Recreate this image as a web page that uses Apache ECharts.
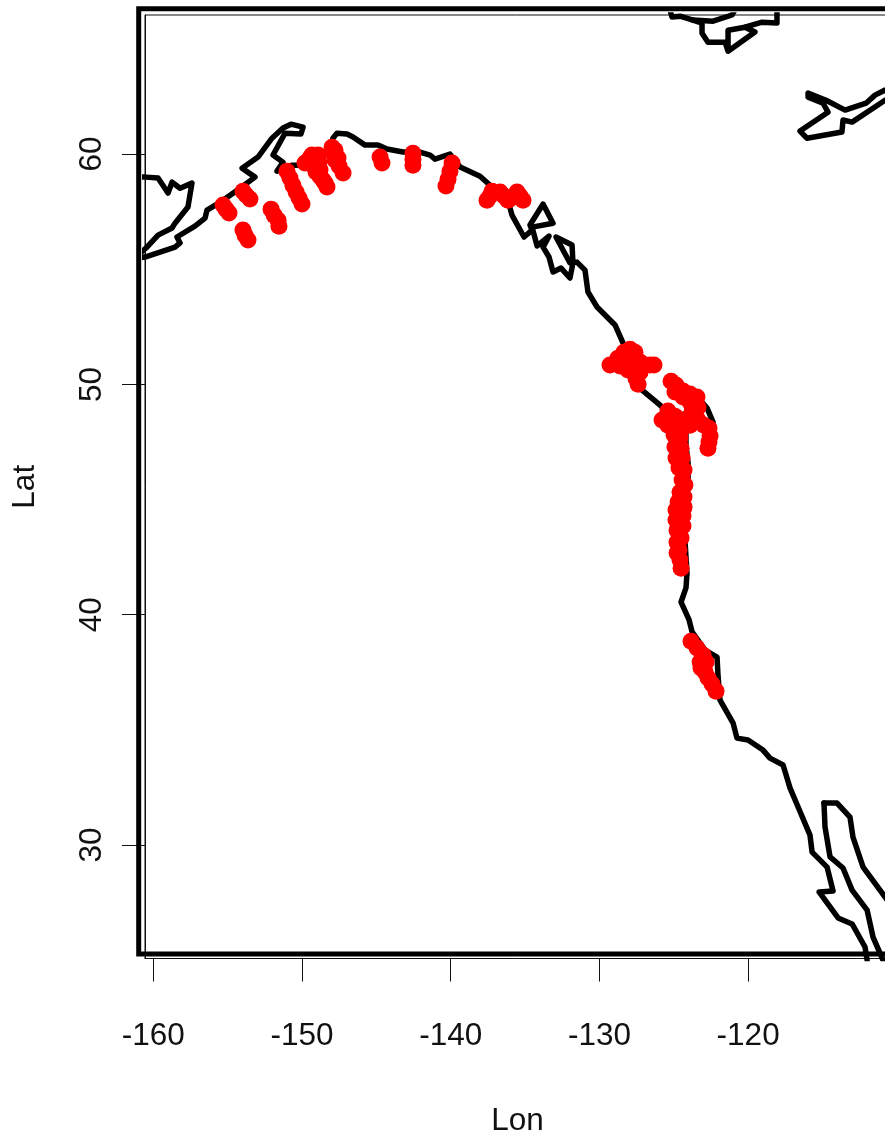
<!DOCTYPE html>
<html>
<head>
<meta charset="utf-8">
<style>html,body{margin:0;padding:0;background:#fff}#c{width:885px;height:1134px}</style>
<script src="https://cdn.jsdelivr.net/npm/echarts@6/dist/echarts.min.js"></script>
</head>
<body>
<div id="c"></div>
<script>
const lonTicks = [-160, -150, -140, -130, -120];
const latTicks = [30, 40, 50, 60];

const coastMain = [[-161.23,55.48],[-160.56,55.53],[-159.55,55.74],[-158.54,55.96],[-158.20,56.14],[-158.41,56.40],[-157.20,56.87],[-156.52,57.22],[-156.39,57.57],[-155.38,57.96],[-154.17,58.52],[-153.16,59.00],[-154.03,59.39],[-152.96,59.87],[-152.02,60.69],[-151.28,61.13],[-150.74,61.30],[-149.93,61.17],[-150.07,60.87],[-151.14,60.91],[-151.95,59.96],[-151.28,59.65],[-151.68,59.26],[-150.67,59.52],[-149.80,59.52],[-148.79,59.83],[-148.12,60.17],[-147.92,60.69],[-147.65,60.91],[-146.97,60.87],[-146.57,60.74],[-145.76,60.39],[-144.89,60.39],[-144.28,60.22],[-143.21,60.09],[-142.07,60.09],[-141.39,59.96],[-141.06,59.78],[-140.05,60.00],[-139.37,59.44],[-138.03,59.04],[-137.22,58.57],[-136.21,58.13],[-135.88,57.35],[-135.07,56.40],[-134.53,56.70],[-134.67,56.92],[-133.79,57.83],[-133.12,57.00],[-134.53,56.83],[-134.19,56.01],[-133.39,56.44],[-133.79,55.96],[-133.39,55.53],[-133.12,54.88],[-132.58,55.05],[-131.98,54.62],[-131.78,55.27],[-131.84,56.05],[-132.92,56.40],[-131.98,55.27],[-131.51,55.31],[-130.97,54.96],[-130.77,54.01],[-130.16,53.36],[-128.95,52.58],[-128.41,51.79],[-127.94,50.84],[-127.13,49.75],[-125.92,49.10],[-125.12,48.54],[-123.91,48.80],[-123.23,49.32],[-122.76,48.97],[-122.36,48.36],[-123.23,48.28],[-124.18,48.10],[-124.18,47.36],[-124.04,46.58],[-124.04,45.85],[-124.18,44.54],[-124.25,43.24],[-124.11,41.81],[-124.18,41.16],[-124.51,40.55],[-123.97,39.77],[-123.77,39.25],[-122.90,38.46],[-122.09,38.16],[-122.02,37.29],[-121.89,36.29],[-121.01,35.29],[-120.75,34.64],[-120.01,34.56],[-119.00,34.12],[-118.53,33.77],[-117.65,33.47],[-117.18,32.47],[-116.64,31.65],[-115.84,30.43],[-115.70,29.69],[-114.69,29.04],[-114.29,28.00],[-115.23,27.96],[-113.95,26.83],[-113.01,26.57],[-112.14,25.57],[-112.00,25.00]];
const coastBajaEast = [[-114.90,31.82],[-114.02,31.82],[-113.15,31.21],[-112.95,30.34],[-112.27,29.04],[-110.79,27.74],[-110.32,27.30]];
const coastBajaWest = [[-114.90,31.82],[-114.83,30.78],[-114.49,29.48],[-113.62,29.00],[-113.01,28.04],[-112.00,27.17],[-111.60,26.00],[-110.93,25.00]];
const coastBristol = [[-161.03,59.00],[-160.49,59.00],[-159.68,58.96],[-159.01,58.31],[-158.74,58.78],[-158.20,58.52],[-157.40,58.74],[-157.67,57.70],[-158.54,57.00],[-158.74,56.79],[-159.68,56.48],[-160.49,55.92],[-161.03,55.61]];
const coastTopA = [[-125.25,66.25],[-125.12,65.95],[-124.58,65.99],[-123.71,65.82],[-123.10,65.69],[-123.10,65.25],[-122.70,64.86],[-121.55,64.86],[-121.35,64.47],[-121.35,65.38],[-120.21,65.51],[-119.54,65.30],[-121.35,64.47]];
const coastTopB = [[-120.21,65.51],[-119.06,65.73],[-118.06,65.69],[-118.06,66.25]];
const coastTopC = [[-123.71,65.82],[-122.36,65.77],[-121.08,66.04],[-120.90,66.25]];
const coastIsland = [[-110.12,62.87],[-110.79,62.78],[-111.47,62.56],[-112.07,62.21],[-113.48,61.91],[-114.76,62.34],[-115.97,62.65],[-115.97,62.47],[-114.96,62.21],[-114.63,61.82],[-116.51,61.00],[-116.04,60.69],[-113.69,60.96],[-113.62,61.48],[-113.01,61.39],[-110.79,62.34],[-110.12,62.56]];

const sitesAlaska = [[-155.31,57.79],[-155.11,57.61],[-154.91,57.44],[-153.97,58.39],[-153.77,58.22],[-153.50,58.05],[-153.97,56.70],[-153.83,56.48],[-153.63,56.27],[-152.08,57.61],[-151.88,57.35],[-151.61,57.13],[-151.55,56.87],[-151.01,59.26],[-150.81,58.96],[-150.61,58.65],[-150.40,58.35],[-150.20,58.09],[-150.00,57.83],[-149.80,59.61],[-149.46,59.83],[-149.33,59.96],[-148.92,59.96],[-149.26,59.52],[-148.86,59.61],[-149.06,59.22],[-148.79,59.31],[-148.79,59.04],[-148.59,58.87],[-148.45,58.74],[-148.32,58.57],[-147.98,60.30],[-147.78,60.17],[-147.92,60.04],[-147.58,59.83],[-147.78,59.74],[-147.51,59.48],[-147.24,59.18],[-144.75,59.87],[-144.62,59.61],[-142.54,60.04],[-142.54,59.78],[-142.54,59.52],[-139.91,59.61],[-140.05,59.26],[-140.18,58.91],[-140.32,58.61],[-137.56,58.00],[-137.36,58.18],[-137.22,58.39],[-136.68,58.35],[-136.42,58.18],[-136.15,58.00],[-135.81,58.13],[-135.54,58.35],[-135.34,58.18],[-135.14,58.00]];
const sitesBC = [[-129.29,50.84],[-128.75,51.14],[-128.35,51.40],[-127.94,51.53],[-127.61,51.40],[-128.61,50.80],[-128.08,50.62],[-127.54,50.27],[-127.40,50.01],[-127.27,50.53],[-127.81,51.06],[-127.27,50.97],[-126.93,50.84],[-126.60,50.84],[-126.33,50.84],[-125.18,50.14],[-124.85,49.97],[-124.92,49.67],[-124.38,49.71],[-124.38,49.45],[-123.91,49.58],[-123.44,49.45],[-123.91,49.23],[-123.37,49.01],[-123.77,48.80],[-125.79,48.45],[-125.39,48.84],[-125.39,48.23],[-124.92,48.62],[-124.92,48.10],[-124.44,48.45],[-124.44,48.10],[-123.91,48.54],[-123.91,48.23],[-123.37,48.45],[-122.97,48.23],[-122.63,48.10],[-122.56,47.76],[-122.63,47.50],[-122.70,47.23]];
const sitesOregon = [[-124.98,47.80],[-124.58,47.67],[-124.92,47.28],[-124.51,47.23],[-124.85,46.80],[-124.44,46.80],[-124.65,46.37],[-124.31,46.28],[-124.44,45.85],[-124.25,45.63],[-124.58,45.32],[-124.31,45.11],[-124.71,44.89],[-124.31,44.67],[-124.85,44.54],[-124.38,44.28],[-124.85,44.11],[-124.38,43.85],[-124.78,43.67],[-124.51,43.33],[-124.78,43.15],[-124.65,42.81],[-124.78,42.68],[-124.58,42.37],[-124.51,42.02]];
const sitesCalifornia = [[-123.84,38.85],[-123.44,38.55],[-123.03,38.25],[-122.83,37.94],[-123.23,37.94],[-123.17,37.68],[-122.90,37.51],[-122.70,37.25],[-122.43,36.99],[-122.16,36.68]];

const coasts = [coastMain, coastBajaEast, coastBajaWest, coastBristol, coastTopA, coastTopB, coastTopC, coastIsland];
const siteGroups = [sitesAlaska, sitesBC, sitesOregon, sitesCalifornia];

const font = '"Liberation Sans", Arial, sans-serif';
const chart = echarts.init(document.getElementById('c'), null, {renderer: 'canvas'});
chart.setOption({
  animation: false,
  backgroundColor: '#fff',
  graphic: [{
    type: 'rect', z: 10, silent: true,
    shape: {x: 138.7, y: 8.7, width: 800, height: 945.3},
    style: {fill: 'none', stroke: '#000', lineWidth: 5}
  }],
  grid: {left: 145, top: 15, width: 745, height: 943.5, outerBoundsMode: 'none', show: true, borderColor: '#111', borderWidth: 1, backgroundColor: '#fff'},
  xAxis: {
    type: 'value', min: -160.558, max: -110.46, name: 'Lon', nameLocation: 'middle', nameGap: 147,
    nameTextStyle: {fontFamily: font, fontSize: 31.5, color: '#111'},
    splitLine: {show: false},
    axisLine: {show: true, onZero: false, lineStyle: {color: '#111', width: 1}},
    axisTick: {show: true, length: 23, customValues: lonTicks, lineStyle: {color: '#111', width: 1}},
    axisLabel: {show: true, margin: 62, fontFamily: font, fontSize: 31.5, color: '#111', customValues: lonTicks}
  },
  yAxis: {
    type: 'value', min: 25.07, max: 66.04, name: 'Lat', nameLocation: 'middle', nameGap: 104, nameRotate: 90,
    nameTextStyle: {fontFamily: font, fontSize: 31.5, color: '#111'},
    splitLine: {show: false},
    axisLine: {show: true, onZero: false, lineStyle: {color: '#111', width: 1}},
    axisTick: {show: true, length: 23, customValues: latTicks, lineStyle: {color: '#111', width: 1}},
    axisLabel: {show: true, margin: 37, rotate: 90, fontFamily: font, fontSize: 31.5, color: '#111', customValues: latTicks}
  },
  series: coasts.map(c => ({
    type: 'line', data: c, showSymbol: false, symbol: 'none', clip: true, silent: true, z: 2,
    lineStyle: {color: '#000', width: 5.5, join: 'round', cap: 'round'}
  })).concat(siteGroups.map(s => ({
    type: 'scatter', data: s, symbol: 'circle', symbolSize: 17, clip: true, silent: true, z: 3,
    itemStyle: {color: '#ff0000', opacity: 1}
  })))
});
</script>
</body>
</html>
